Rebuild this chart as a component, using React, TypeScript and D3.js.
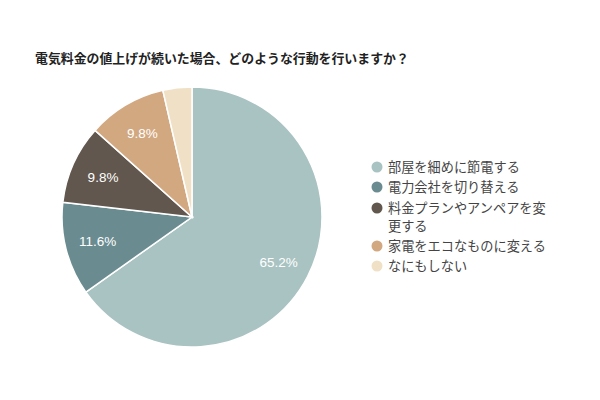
import { useEffect, useRef } from "react";
import * as d3 from "d3";

const title = "電気料金の値上げが続いた場合、どのような行動を行いますか？";
const categories = [
  "部屋を細めに節電する",
  "電力会社を切り替える",
  "料金プランやアンペアを変更する",
  "家電をエコなものに変える",
  "なにもしない",
];
const values = [65.2, 11.6, 9.8, 9.8, 3.6];
const colors = ["#a9c3c2", "#6a8c91", "#62574e", "#d2a881", "#f0e1c6"];
// legend label lines (wrapped as in the original)
const legendLines = [
  ["部屋を細めに節電する"],
  ["電力会社を切り替える"],
  ["料金プランやアンペアを変", "更する"],
  ["家電をエコなものに変える"],
  ["なにもしない"],
];

const FONT = "'Noto Sans CJK JP', 'Noto Sans', sans-serif";

export default function App() {
  const svgRef = useRef<SVGSVGElement>(null);

  useEffect(() => {
    if (!svgRef.current) return;
    const svg = d3.select(svgRef.current);
    svg.selectAll("*").remove();

    svg.append("rect").attr("width", 600).attr("height", 400).attr("fill", "#fff");

    svg.append("text")
      .attr("x", 35)
      .attr("y", 58)
      .attr("dy", "0.35em")
      .attr("font-family", FONT)
      .attr("font-size", 12.9)
      .attr("font-weight", "bold")
      .attr("fill", "#222")
      .text(title);

    const cx = 192, cy = 217, radius = 130;
    const data = categories.map((c, i) => ({ name: c, value: values[i], color: colors[i] }));

    const pie = d3.pie<any>().sort(null).value(d => d.value);
    const arcs = pie(data);
    const arc = d3.arc<any>().innerRadius(0).outerRadius(radius);
    const labelArc = d3.arc<any>().innerRadius(radius * 0.75).outerRadius(radius * 0.75);

    const g = svg.append("g").attr("transform", `translate(${cx},${cy})`);

    g.selectAll("path")
      .data(arcs)
      .enter()
      .append("path")
      .attr("d", arc)
      .attr("fill", d => d.data.color)
      .attr("stroke", "#fff")
      .attr("stroke-width", 1.5);

    g.selectAll("text.label")
      .data(arcs.filter(d => d.data.value >= 5))
      .enter()
      .append("text")
      .attr("class", "label")
      .attr("transform", d => `translate(${labelArc.centroid(d)})`)
      .attr("text-anchor", "middle")
      .attr("dy", "0.35em")
      .attr("font-family", "Arial, 'Liberation Sans', sans-serif")
      .attr("font-size", 13.5)
      .attr("fill", "#fff")
      .text(d => `${d.data.value}%`);

    // Legend
    const rowY = d3.scaleOrdinal<number>()
      .domain(categories)
      .range([167, 187, 208, 246, 266]);

    const legend = svg.append("g");
    categories.forEach((c, i) => {
      const y = rowY(c);
      legend.append("circle")
        .attr("cx", 377)
        .attr("cy", y)
        .attr("r", 5.5)
        .attr("fill", colors[i]);
      legendLines[i].forEach((line, j) => {
        legend.append("text")
          .attr("x", 388)
          .attr("y", y + j * 18)
          .attr("dy", "0.35em")
          .attr("font-family", FONT)
          .attr("font-size", 13.2)
          .attr("fill", "#444")
          .text(line);
      });
    });
  }, []);

  return (
    <div style={{ width: 600, height: 400, margin: -8 }}>
      <svg ref={svgRef} width={600} height={400} style={{ display: "block" }} />
    </div>
  );
}
